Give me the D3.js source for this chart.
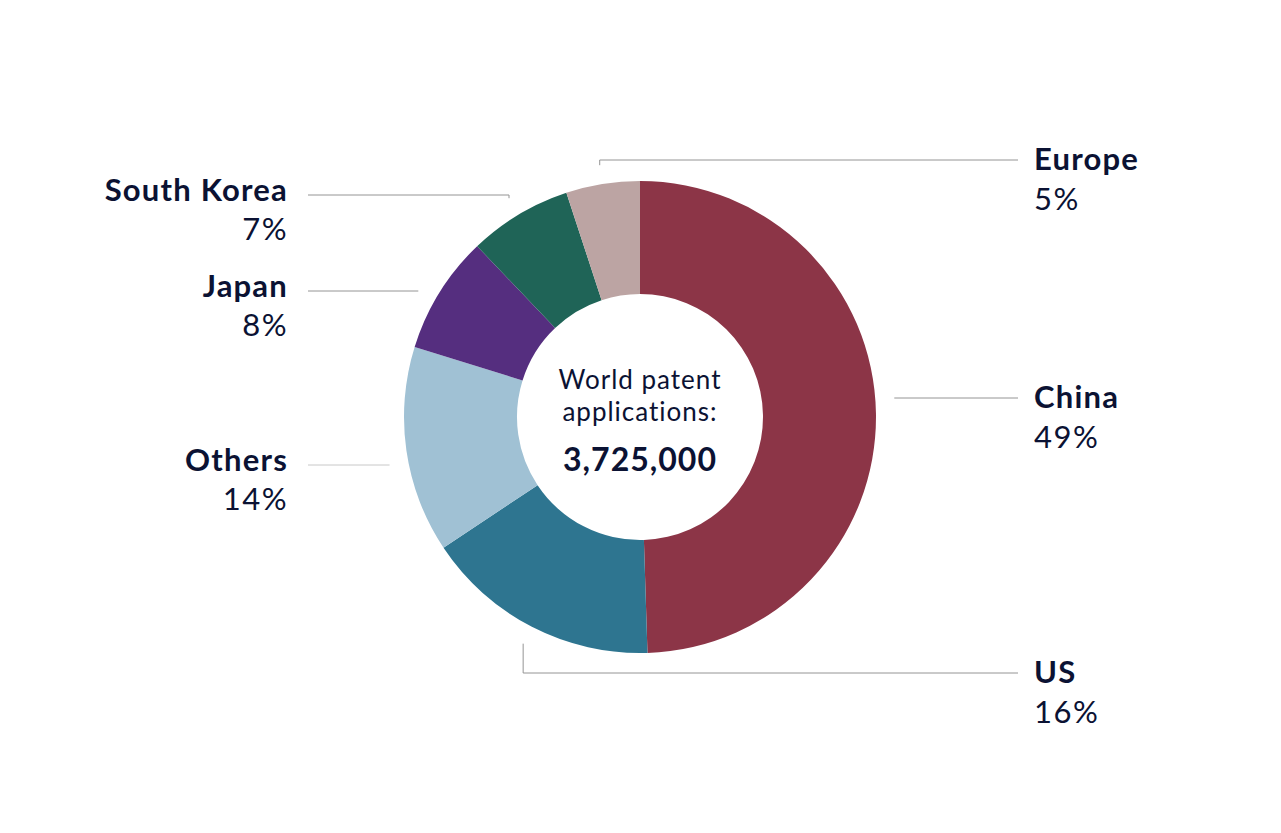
<!DOCTYPE html>
<html>
<head>
<meta charset="utf-8">
<script src="https://cdn.jsdelivr.net/npm/d3@7"></script>
<style>
  body { margin: 0; background: #fff; }
  text { font-family: Lato, "Open Sans", sans-serif; fill: #0b1233; }
</style>
</head>
<body>
<div id="chart"></div>
<script>
var w = 1281; // Set the width
var h = 833; // Set the height

// Chart data, clockwise from 12 o'clock
var regions = ["China", "US", "Others", "Japan", "South Korea", "Europe"];
var shares = [49, 16, 14, 8, 7, 5];
var colors = ["#8c3547", "#2e7590", "#a0c1d4", "#552e7f", "#1f6457", "#bca4a3"];
var centerLines = ["World patent", "applications:"];
var centerTotal = "3,725,000";

// Label layout (side, y of leader line, elbow or straight)
var labelLayout = [
    { side: "right", lineY: 398, elbow: false },
    { side: "right", lineY: 673, elbow: true },
    { side: "left", lineY: 465, elbow: false },
    { side: "left", lineY: 291, elbow: false },
    { side: "left", lineY: 195, elbow: true },
    { side: "right", lineY: 160, elbow: true }
];

var cx = 640, cy = 417;
var outerR = 236, innerR = 123;
var leaderR = 255;
var rightX = 1034, leftX = 288;

var svg = d3.select("#chart")
    .append("svg")
    .attr("width", w)
    .attr("height", h);

var dataset = regions.map(function(r, i) {
    return { name: r, value: shares[i], color: colors[i], layout: labelLayout[i] };
});

var pie = d3.pie()
    .sort(null)
    .value(function(d) { return d.value; });

var arc = d3.arc()
    .innerRadius(innerR)
    .outerRadius(outerR);

var g = svg.append("g")
    .attr("transform", "translate(" + cx + "," + cy + ")");

var arcs = pie(dataset);

// Slices
g.selectAll("path.slice")
    .data(arcs)
    .enter()
    .append("path")
    .attr("class", "slice")
    .attr("d", arc)
    .attr("fill", function(d) { return d.data.color; });

// Leader lines
g.selectAll("path.leader")
    .data(arcs)
    .enter()
    .append("path")
    .attr("class", "leader")
    .attr("fill", "none")
    .attr("stroke", function(d) { return d.data.name === "Others" ? "#c8c8c8" : "#949494"; })
    .attr("stroke-width", 1)
    .attr("d", function(d) {
        var L = d.data.layout;
        var ly = L.lineY - cy;
        var endX = (L.side === "right" ? rightX - 16 : leftX + 20) - cx;
        if (L.elbow) {
            var mid = (d.startAngle + d.endAngle) / 2;
            var ax = Math.sin(mid) * leaderR;
            var ay = -Math.cos(mid) * leaderR;
            return "M" + ax + "," + ay + "V" + ly + "H" + endX;
        }
        var dx = Math.sqrt(leaderR * leaderR - ly * ly);
        var sx = L.side === "right" ? dx : -dx;
        return "M" + sx + "," + ly + "H" + endX;
    });

// Labels
var labels = svg.selectAll("g.label")
    .data(arcs)
    .enter()
    .append("g")
    .attr("class", "label")
    .attr("text-anchor", function(d) { return d.data.layout.side === "right" ? "start" : "end"; });

labels.append("text")
    .attr("x", function(d) { return d.data.layout.side === "right" ? rightX : leftX; })
    .attr("y", function(d) { return d.data.layout.lineY + (d.data.layout.side === "right" ? 10 : 6); })
    .style("font-size", "31px")
    .style("font-weight", "bold")
    .style("letter-spacing", "1.2px")
    .text(function(d) { return d.data.name; });

labels.append("text")
    .attr("x", function(d) { return d.data.layout.side === "right" ? rightX : leftX; })
    .attr("y", function(d) { return d.data.layout.lineY + (d.data.layout.side === "right" ? 50 : 45); })
    .style("font-size", "31px")
    .style("letter-spacing", "1.5px")
    .text(function(d) { return d.data.value + "%"; });

// Centre text
g.selectAll("text.centre")
    .data(centerLines)
    .enter()
    .append("text")
    .attr("class", "centre")
    .attr("text-anchor", "middle")
    .attr("y", function(d, i) { return -28 + i * 32; })
    .style("font-size", "26px")
    .style("letter-spacing", "1px")
    .text(function(d) { return d; });

g.append("text")
    .attr("text-anchor", "middle")
    .attr("y", 54)
    .style("font-size", "32px")
    .style("font-weight", "bold")
    .style("letter-spacing", "1px")
    .text(centerTotal);
</script>
</body>
</html>
